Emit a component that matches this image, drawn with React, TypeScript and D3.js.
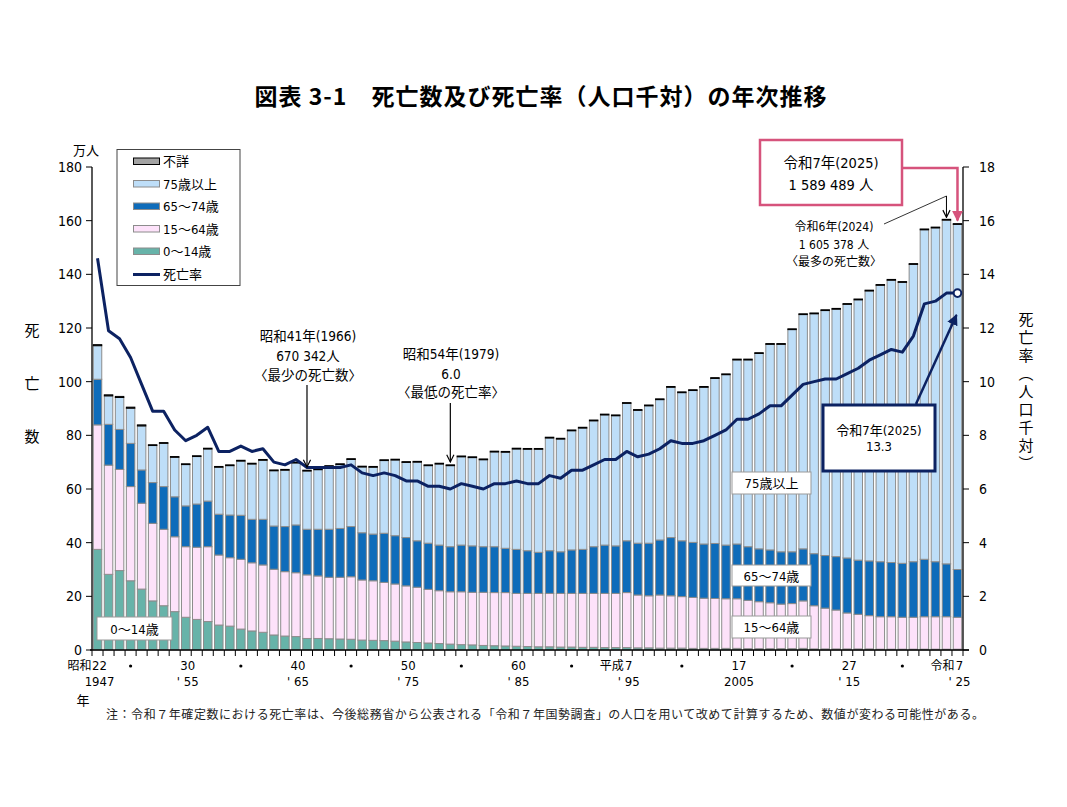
import * as d3 from "d3";

// 年（1947〜2025）
const years = [
  1947, 1948, 1949, 1950, 1951, 1952, 1953, 1954, 1955, 1956,
  1957, 1958, 1959, 1960, 1961, 1962, 1963, 1964, 1965, 1966,
  1967, 1968, 1969, 1970, 1971, 1972, 1973, 1974, 1975, 1976,
  1977, 1978, 1979, 1980, 1981, 1982, 1983, 1984, 1985, 1986,
  1987, 1988, 1989, 1990, 1991, 1992, 1993, 1994, 1995, 1996,
  1997, 1998, 1999, 2000, 2001, 2002, 2003, 2004, 2005, 2006,
  2007, 2008, 2009, 2010, 2011, 2012, 2013, 2014, 2015, 2016,
  2017, 2018, 2019, 2020, 2021, 2022, 2023, 2024, 2025,
];

// 死亡数（万人）
const totalDeaths = [
  113.8, 95.1, 94.5, 90.5, 83.9, 76.5, 77.3, 72.1, 69.4, 72.4,
  75.2, 68.4, 69.0, 70.7, 69.6, 71.0, 67.1, 67.3, 70.0, 67.0,
  67.5, 68.7, 69.4, 71.3, 68.5, 68.4, 70.9, 71.1, 70.2, 70.3,
  69.0, 69.6, 69.0, 72.3, 72.0, 71.2, 74.1, 74.0, 75.2, 75.1,
  75.1, 79.3, 78.9, 82.0, 83.0, 85.7, 87.9, 87.6, 92.2, 89.6,
  91.3, 93.6, 98.2, 96.2, 97.0, 98.2, 101.5, 102.9, 108.4, 108.4,
  110.8, 114.2, 114.2, 119.7, 125.3, 125.6, 126.8, 127.3, 129.1, 130.8,
  134.1, 136.2, 138.1, 137.3, 144.0, 156.9, 157.6, 160.5, 158.9,
];

const age0to14 = [
  37.5, 28.2, 29.6, 25.8, 22.7, 18.3, 16.5, 14.3, 12.2, 11.4,
  10.6, 9.3, 8.9, 7.8, 7.1, 6.6, 5.6, 5.2, 5.0, 4.3,
  4.3, 4.2, 4.1, 4.0, 3.7, 3.6, 3.5, 3.3, 3.0, 2.8,
  2.6, 2.4, 2.2, 2.0, 1.9, 1.7, 1.6, 1.5, 1.4, 1.3,
  1.2, 1.2, 1.1, 1.1, 1.0, 1.0, 0.9, 0.9, 0.9, 0.8,
  0.8, 0.7, 0.7, 0.7, 0.6, 0.6, 0.6, 0.6, 0.6, 0.5,
  0.5, 0.5, 0.5, 0.5, 0.6, 0.4, 0.4, 0.4, 0.4, 0.4,
  0.4, 0.3, 0.3, 0.3, 0.3, 0.3, 0.3, 0.3, 0.3,
];

const age15to64 = [
  46.4, 40.7, 37.7, 35.1, 32.0, 28.9, 28.5, 27.9, 26.3, 26.9,
  27.9, 26.1, 25.5, 26.0, 25.4, 25.1, 24.5, 24.0, 23.8, 23.7,
  23.3, 22.9, 23.0, 23.3, 22.4, 22.2, 21.7, 21.3, 20.9, 20.6,
  20.0, 19.7, 19.5, 19.7, 19.6, 19.8, 19.8, 19.9, 19.7, 19.8,
  19.9, 19.9, 20.0, 20.0, 20.1, 20.1, 20.2, 20.2, 20.5, 19.7,
  19.4, 19.8, 19.5, 19.2, 19.0, 18.7, 18.6, 18.5, 18.5, 18.0,
  17.5, 17.1, 16.6, 16.8, 17.7, 16.1, 15.2, 14.5, 13.4, 12.9,
  12.4, 12.1, 12.1, 11.9, 11.9, 12.1, 12.1, 12.1, 11.9,
];

const age65to74 = [
  17.0, 15.2, 14.9, 16.1, 12.4, 15.2, 15.9, 14.9, 15.2, 16.1,
  17.0, 15.2, 15.9, 16.4, 16.2, 17.0, 16.1, 16.8, 17.8, 17.0,
  17.4, 17.9, 18.2, 18.7, 17.6, 17.4, 18.3, 18.0, 18.0, 17.3,
  17.2, 17.0, 16.8, 17.4, 17.3, 17.0, 17.1, 16.5, 16.4, 15.9,
  15.3, 15.9, 15.5, 16.2, 16.4, 17.4, 18.0, 17.7, 19.3, 19.3,
  19.6, 20.5, 21.7, 20.8, 20.5, 20.2, 20.5, 20.0, 20.4, 20.0,
  19.7, 19.7, 19.5, 19.3, 19.4, 19.4, 19.6, 19.9, 20.5, 20.2,
  20.4, 20.5, 20.2, 20.1, 20.7, 21.4, 20.5, 19.7, 17.8,
];

const unknownAge = [
  0.4, 0.4, 0.4, 0.4, 0.4, 0.3, 0.3, 0.3, 0.3, 0.3,
  0.3, 0.3, 0.3, 0.3, 0.3, 0.3, 0.3, 0.3, 0.3, 0.3,
  0.3, 0.3, 0.3, 0.3, 0.3, 0.3, 0.3, 0.3, 0.3, 0.3,
  0.3, 0.3, 0.3, 0.3, 0.3, 0.3, 0.3, 0.3, 0.3, 0.3,
  0.3, 0.3, 0.3, 0.3, 0.3, 0.3, 0.3, 0.3, 0.3, 0.3,
  0.3, 0.3, 0.3, 0.3, 0.3, 0.3, 0.3, 0.3, 0.3, 0.3,
  0.3, 0.3, 0.3, 0.3, 0.3, 0.3, 0.3, 0.3, 0.3, 0.3,
  0.3, 0.3, 0.3, 0.3, 0.3, 0.3, 0.3, 0.3, 0.3,
];

// 死亡率（人口千対）
const deathRate = [
  14.6, 11.9, 11.6, 10.9, 9.9, 8.9, 8.9, 8.2, 7.8, 8.0,
  8.3, 7.4, 7.4, 7.6, 7.4, 7.5, 7.0, 6.9, 7.1, 6.8,
  6.8, 6.8, 6.8, 6.9, 6.6, 6.5, 6.6, 6.5, 6.3, 6.3,
  6.1, 6.1, 6.0, 6.2, 6.1, 6.0, 6.2, 6.2, 6.3, 6.2,
  6.2, 6.5, 6.4, 6.7, 6.7, 6.9, 7.1, 7.1, 7.4, 7.2,
  7.3, 7.5, 7.8, 7.7, 7.7, 7.8, 8.0, 8.2, 8.6, 8.6,
  8.8, 9.1, 9.1, 9.5, 9.9, 10.0, 10.1, 10.1, 10.3, 10.5,
  10.8, 11.0, 11.2, 11.1, 11.7, 12.9, 13.0, 13.3, 13.3,
];

const leftTicks = [0, 20, 40, 60, 80, 100, 120, 140, 160, 180];
const rightTicks = [0, 2, 4, 6, 8, 10, 12, 14, 16, 18];

const xLabelYears = [1947, 1955, 1965, 1975, 1985, 1995, 2005, 2015, 2025];
const xLabelEraNums = ["22", "30", "40", "50", "60", "7", "17", "27", "7"];
const xLabelEraNames = ["昭和", "", "", "", "", "平成", "", "", "令和"];
const xLabelWestern = ["1947", "' 55", "' 65", "' 75", "' 85", "' 95", "2005", "' 15", "' 25"];
const xDotYears = [1950, 1960, 1970, 1980, 1990, 2000, 2010, 2020];

const C014 = "#67B3A9";
const C1564 = "#FDE2FA";
const C6574 = "#0E6CBA";
const C75 = "#BEDEF8";
const CUNK = "#A3A3A3";
const NAVY = "#0C2262";
const PINK = "#D6537C";
const GRAYSTROKE = "#8c8c8c";

const jp = "'Noto Sans CJK JP', sans-serif";
const num = "'DejaVu Sans Condensed', 'Liberation Sans Narrow', 'Noto Sans CJK JP', sans-serif";

const keys = ["age0_14", "age15_64", "age65_74", "age75", "unknown"];
const fills: { [k: string]: string } = {
  age0_14: C014,
  age15_64: C1564,
  age65_74: C6574,
  age75: C75,
  unknown: CUNK,
};

const legendItems = [
  { label: "不詳", fill: CUNK, stroke: "#000" },
  { label: "75歳以上", fill: C75, stroke: GRAYSTROKE },
  { label: "65～74歳", fill: C6574, stroke: GRAYSTROKE },
  { label: "15～64歳", fill: C1564, stroke: GRAYSTROKE },
  { label: "0～14歳", fill: C014, stroke: GRAYSTROKE },
];

export default function App() {
  const W = 1067;
  const H = 807;
  const left = 92;
  const right = 963;
  const top = 167;
  const bottom = 650;

  const x = d3
    .scaleBand<string>()
    .domain(years.map(String))
    .range([left, right])
    .paddingInner(0.23)
    .paddingOuter(0.115);
  const bw = x.bandwidth();
  const cx = (yr: number) => (x(String(yr)) as number) + bw / 2;

  const y = d3.scaleLinear().domain([0, 180]).range([bottom, top]);
  const yR = d3.scaleLinear().domain([0, 18]).range([bottom, top]);

  const table = years.map((yr, i) => ({
    year: yr,
    age0_14: age0to14[i],
    age15_64: age15to64[i],
    age65_74: age65to74[i],
    unknown: unknownAge[i],
    age75: totalDeaths[i] - age0to14[i] - age15to64[i] - age65to74[i] - unknownAge[i],
  }));
  const series = d3.stack<any>().keys(keys)(table);

  const rateLine = d3
    .line<number>()
    .x((_, i) => cx(years[i]))
    .y((d) => yR(d));

  const lastYear = years[years.length - 1];
  const lastRate = deathRate[deathRate.length - 1];
  const xTickPositions = d3.range(years.length + 1).map((k) => left + k * x.step());

  const labelBox = (bx: number, by: number, w: number, h: number, text: string) => (
    <g>
      <rect x={bx} y={by} width={w} height={h} fill="#fff" stroke="#999" strokeWidth={1} />
      <text x={bx + w / 2} y={by + h / 2 + 5} textAnchor="middle" fontSize={13} fontFamily={num}>
        {text}
      </text>
    </g>
  );

  return (
    <svg
      width={W}
      height={H}
      style={{ position: "absolute", left: 0, top: 0, background: "#fff" }}
      fontFamily={jp}
    >
      <defs>
        <marker id="arrOpen" viewBox="0 0 10 10" refX="9" refY="5" markerWidth="9" markerHeight="9"
          markerUnits="userSpaceOnUse" orient="auto">
          <path d="M1,1 L9,5 L1,9" fill="none" stroke="#000" strokeWidth={1.3} />
        </marker>
        <marker id="arrPink" viewBox="0 0 10 10" refX="9" refY="5" markerWidth="11" markerHeight="11"
          markerUnits="userSpaceOnUse" orient="auto">
          <path d="M0,0 L10,5 L0,10 Z" fill={PINK} />
        </marker>
        <marker id="arrNavy" viewBox="0 0 10 10" refX="9" refY="5" markerWidth="11" markerHeight="11"
          markerUnits="userSpaceOnUse" orient="auto">
          <path d="M0,0 L10,5 L0,10 Z" fill={NAVY} />
        </marker>
      </defs>

      {/* title */}
      <text x={541} y={105} textAnchor="middle" fontSize={23} fontWeight="bold" fontFamily={jp}
        style={{ letterSpacing: "1px" }}>
        図表 3-1　死亡数及び死亡率（人口千対）の年次推移
      </text>

      {/* bars */}
      {series.map((s: any) => (
        <g key={s.key}>
          {s.map((d: any, i: number) => (
            <rect
              key={i}
              x={x(String(years[i]))}
              y={y(d[1])}
              width={bw}
              height={Math.max(0, y(d[0]) - y(d[1]))}
              fill={fills[s.key]}
              stroke={s.key === "unknown" ? "#000" : GRAYSTROKE}
              strokeWidth={1}
            />
          ))}
        </g>
      ))}

      {/* axes */}
      <line x1={left} x2={left} y1={top} y2={bottom} stroke="#000" strokeWidth={1.3} />
      <line x1={right} x2={right} y1={top} y2={bottom} stroke="#000" strokeWidth={1.3} />
      <line x1={left - 2} x2={right + 6} y1={bottom} y2={bottom} stroke="#000" strokeWidth={1.3} />
      {leftTicks.map((t) => (
        <g key={"l" + t}>
          <line x1={left - 6} x2={left} y1={y(t)} y2={y(t)} stroke="#000" />
          <text x={left - 10} y={y(t) + 5} textAnchor="end" fontSize={14} fontFamily={num}>
            {t}
          </text>
        </g>
      ))}
      {rightTicks.map((t) => (
        <g key={"r" + t}>
          <line x1={right} x2={right + 6} y1={yR(t)} y2={yR(t)} stroke="#000" />
          <text x={979} y={yR(t) + 5} textAnchor="start" fontSize={14} fontFamily={num}>
            {t}
          </text>
        </g>
      ))}
      {xTickPositions.map((p, k) => (
        <line key={"xt" + k} x1={p} x2={p} y1={bottom} y2={bottom + 6} stroke="#000" />
      ))}

      {/* axis titles */}
      <text x={86} y={155} textAnchor="middle" fontSize={13}>万人</text>
      {["死", "亡", "数"].map((c, i) => (
        <text key={c} x={32} y={[336, 389, 442][i]} textAnchor="middle" fontSize={15}>
          {c}
        </text>
      ))}
      <text
        x={1026}
        y={312}
        fontSize={15}
        style={{ writingMode: "vertical-rl", letterSpacing: "3px" }}
      >
        死亡率（人口千対）
      </text>

      {/* x labels */}
      {xLabelYears.map((yr, i) => {
        const c = cx(yr) + 2;
        return (
          <g key={"xl" + yr}>
            <text x={c} y={670} textAnchor="middle" fontSize={13} fontFamily={num}>
              {xLabelEraNums[i]}
            </text>
            {xLabelEraNames[i] && (
              <text
                x={c - (xLabelEraNums[i].length > 1 ? 8 : 5)}
                y={670}
                textAnchor="end"
                fontSize={12}
              >
                {xLabelEraNames[i]}
              </text>
            )}
            <text x={c} y={686} textAnchor="middle" fontSize={13} fontFamily={num}>
              {xLabelWestern[i]}
            </text>
          </g>
        );
      })}
      {xDotYears.map((yr) => (
        <circle key={"dot" + yr} cx={cx(yr)} cy={666} r={1.6} fill="#000" />
      ))}
      <text x={83} y={705} textAnchor="middle" fontSize={13}>年</text>

      {/* death rate line */}
      <path d={rateLine(deathRate) || ""} fill="none" stroke={NAVY} strokeWidth={3} strokeLinejoin="round" />
      <circle cx={cx(lastYear)} cy={yR(lastRate)} r={3.8} fill="#fff" stroke={NAVY} strokeWidth={2} />

      {/* legend */}
      <rect x={117} y={149.5} width={123} height={136} fill="#fff" stroke="#444" strokeWidth={1} />
      {legendItems.map((it, i) => (
        <g key={it.label}>
          <rect x={133.5} y={158 + i * 22.5} width={26} height={6.5} fill={it.fill} stroke={it.stroke} strokeWidth={1} />
          <text x={163} y={166 + i * 22.5} fontSize={13} fontFamily={num}>
            {it.label}
          </text>
        </g>
      ))}
      <line x1={133} x2={160} y1={274.5} y2={274.5} stroke={NAVY} strokeWidth={3} />
      <text x={163} y={279} fontSize={13}>死亡率</text>

      {/* category labels */}
      {labelBox(97, 617, 75, 23, "0～14歳")}
      {labelBox(732, 472, 79, 22, "75歳以上")}
      {labelBox(732, 565, 79, 21, "65～74歳")}
      {labelBox(732, 616, 79, 22, "15～64歳")}

      {/* 1966 / 1979 annotations */}
      <g fontFamily={num} fontSize={13.5} textAnchor="middle">
        <text x={308} y={341}>昭和41年(1966)</text>
        <text x={308} y={361}>670 342人</text>
        <text x={308} y={380}>〈最少の死亡数〉</text>
        <text x={451} y={359}>昭和54年(1979)</text>
        <text x={451} y={379}>6.0</text>
        <text x={451} y={397}>〈最低の死亡率〉</text>
      </g>
      <line x1={cx(1966)} x2={cx(1966)} y1={385} y2={467} stroke="#000" strokeWidth={1.2} markerEnd="url(#arrOpen)" />
      <line x1={cx(1979)} x2={cx(1979)} y1={403} y2={462} stroke="#000" strokeWidth={1.2} markerEnd="url(#arrOpen)" />

      {/* 2025 count box */}
      <rect x={760} y={140} width={142} height={65} fill="#fff" stroke={PINK} strokeWidth={2.5} />
      <g fontFamily={num} fontSize={14.5} textAnchor="middle">
        <text x={831} y={168}>令和7年(2025)</text>
        <text x={831} y={190}>1 589 489 人</text>
      </g>
      <path
        d={`M902,168 L${cx(2025)},168 L${cx(2025)},${y(158.9) - 3}`}
        fill="none"
        stroke={PINK}
        strokeWidth={2.5}
        markerEnd="url(#arrPink)"
      />

      {/* 2024 annotation */}
      <g fontFamily={num} fontSize={12} textAnchor="middle">
        <text x={834} y={231}>令和6年(2024)</text>
        <text x={834} y={249}>1 605 378 人</text>
        <text x={834} y={266}>〈最多の死亡数〉</text>
      </g>
      <line x1={884} y1={224} x2={cx(2024)} y2={196} stroke="#000" strokeWidth={0.8} />
      <line x1={cx(2024)} x2={cx(2024)} y1={196} y2={y(160.5) - 2} stroke="#000" strokeWidth={1} markerEnd="url(#arrOpen)" />

      {/* 2025 rate box */}
      <rect x={823} y={405} width={112} height={66} fill="#fff" stroke={NAVY} strokeWidth={3} />
      <g fontFamily={num} fontSize={13} textAnchor="middle">
        <text x={879} y={435}>令和7年(2025)</text>
        <text x={879} y={451}>13.3</text>
      </g>
      <line x1={916} y1={404} x2={cx(2025) - 1} y2={315} stroke={NAVY} strokeWidth={2.5} markerEnd="url(#arrNavy)" />

      {/* footnote */}
      <text x={106} y={719} fontSize={12} fill="#222" textLength={878} lengthAdjust="spacing">
        注：令和７年確定数における死亡率は、今後総務省から公表される「令和７年国勢調査」の人口を用いて改めて計算するため、数値が変わる可能性がある。
      </text>
    </svg>
  );
}
